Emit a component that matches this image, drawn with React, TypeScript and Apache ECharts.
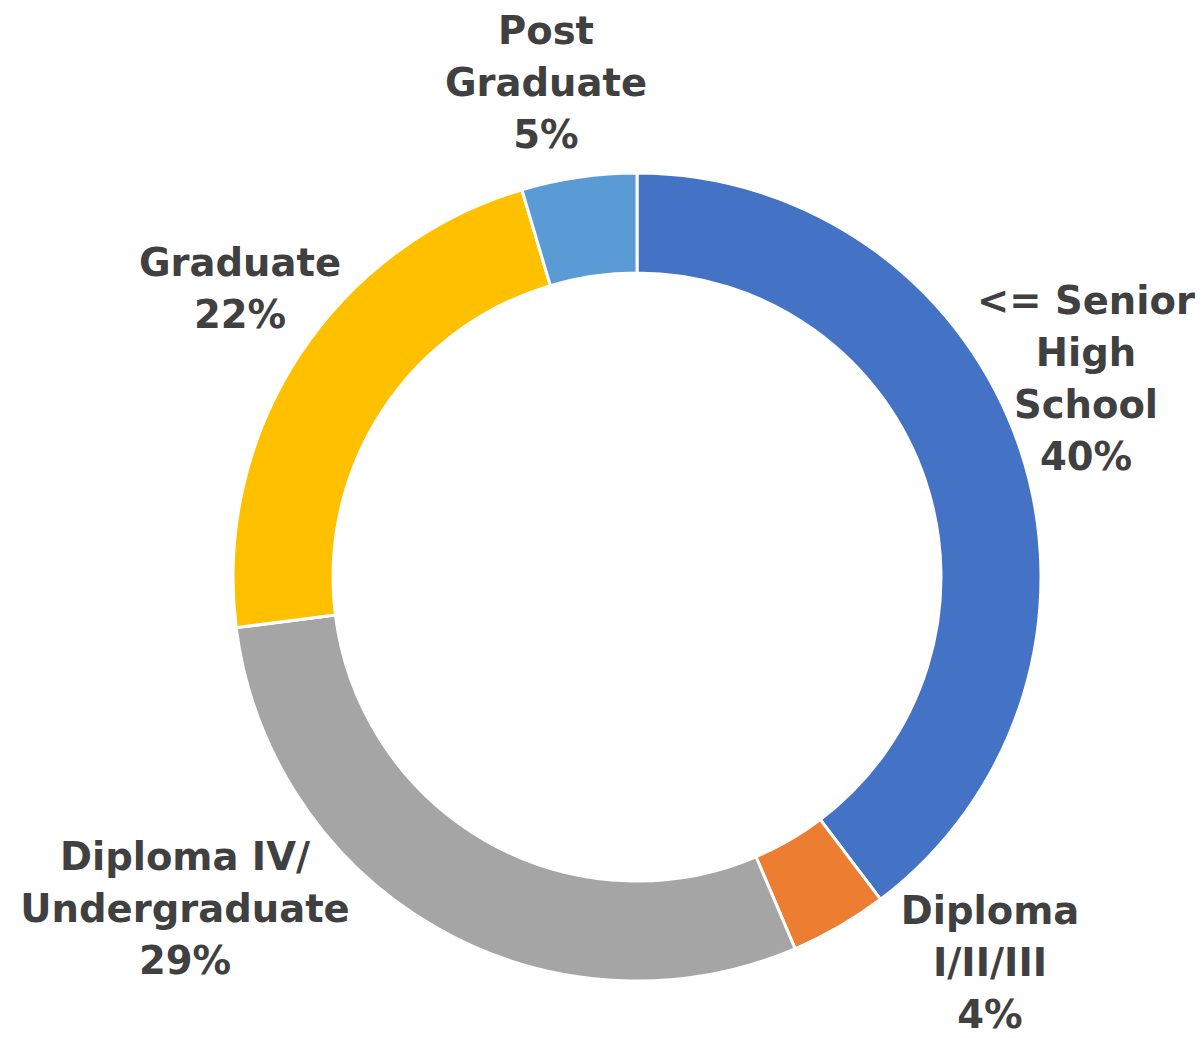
import React, { useEffect, useRef } from "react";
import * as echarts from "echarts";

const categories = [
  "<= Senior\nHigh\nSchool",
  "Diploma\nI/II/III",
  "Diploma IV/\nUndergraduate",
  "Graduate",
  "Post\nGraduate",
];
const values = [39.7, 3.9, 29.4, 22.4, 4.6];
const colors = ["#4472C4", "#ED7D31", "#A5A5A5", "#FFC000", "#5B9BD5"];
// label block centres
const labelPos = [
  [1086, 378],
  [990, 962],
  [185, 908],
  [240, 288],
  [546, 82],
];

export default function App() {
  const ref = useRef<HTMLDivElement>(null);
  useEffect(() => {
    document.body.style.margin = "0";
    const chart = echarts.init(ref.current!, null, { renderer: "svg" });
    chart.setOption({
      animation: false,
      backgroundColor: "#ffffff",
      series: [
        {
          type: "pie",
          center: [637, 577],
          radius: [304, 404],
          startAngle: 90,
          clockwise: true,
          avoidLabelOverlap: false,
          itemStyle: { borderColor: "#ffffff", borderWidth: 3 },
          label: {
            show: true,
            position: "outside",
            formatter: (p: any) => `${p.name}\n${Math.round(p.percent)}%`,
            fontFamily: "DejaVu Sans",
            fontWeight: "bold",
            fontSize: 38.5,
            lineHeight: 52,
            color: "#404040",
            align: "center",
          },
          labelLine: { show: false },
          labelLayout: (params: any) => ({
            x: labelPos[params.dataIndex][0],
            y: labelPos[params.dataIndex][1],
            align: "center",
            verticalAlign: "middle",
          }),
          data: categories.map((name, i) => ({
            name,
            value: values[i],
            itemStyle: { color: colors[i] },
          })),
        },
      ],
    });
    return () => chart.dispose();
  }, []);
  return <div ref={ref} style={{ width: 1204, height: 1038 }} />;
}
